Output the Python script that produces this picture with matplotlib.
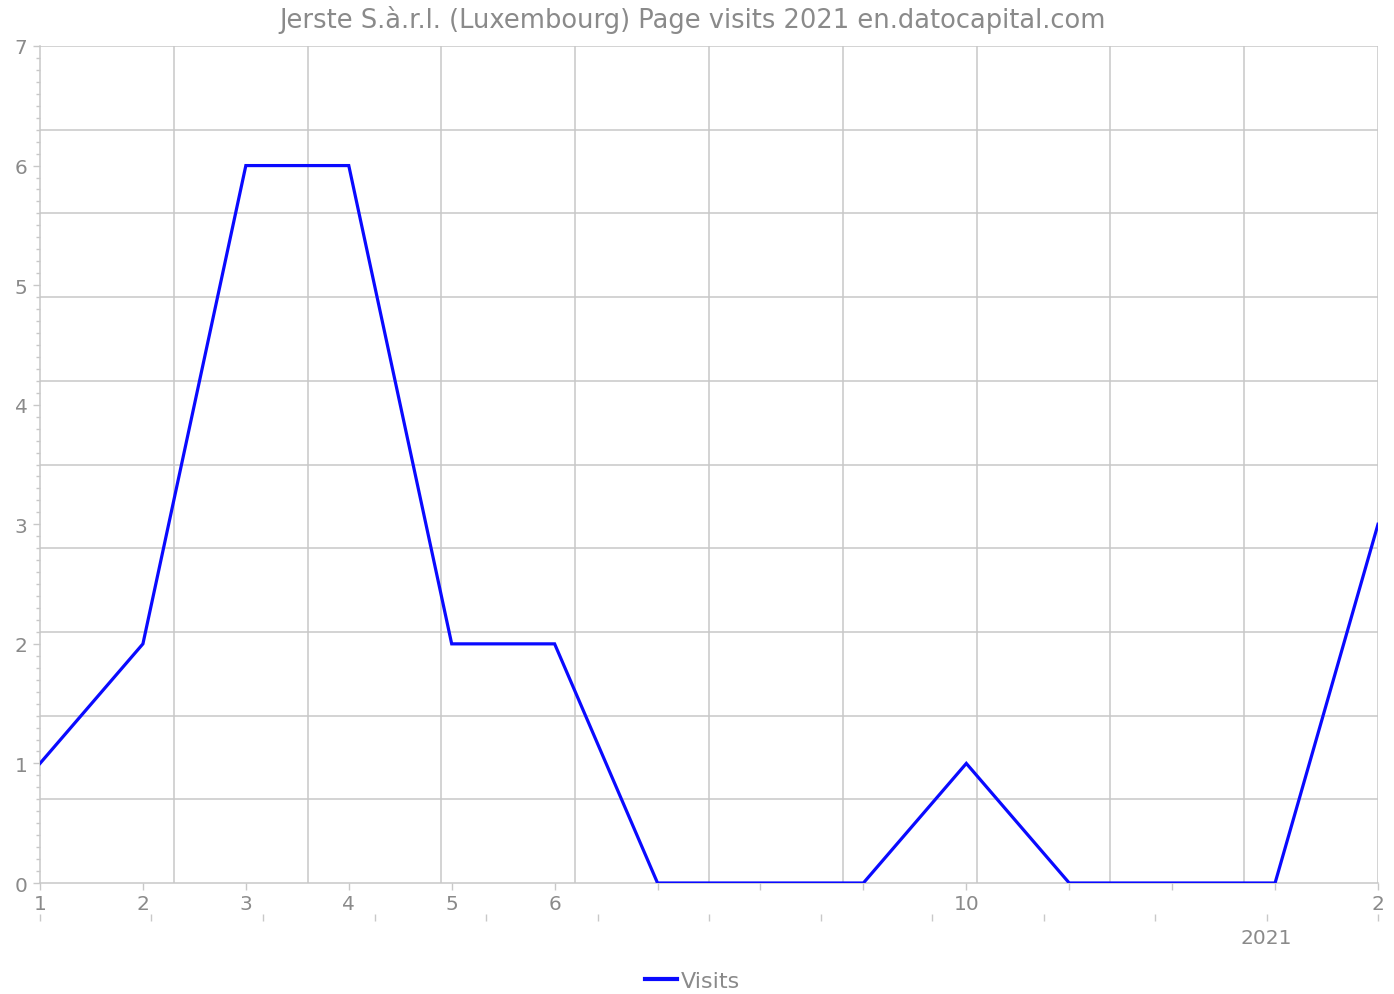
import matplotlib
matplotlib.use("Agg")
import matplotlib.pyplot as plt
import numpy as np

# data
months = list(range(1, 15))
visits = [1, 2, 6, 6, 2, 2, 0, 0, 0, 1, 0, 0, 0, 3]
month_labels = ['1', '2', '3', '4', '5', '6', '', '', '', '10', '', '', '', '2']
year_label = '2021'
title = 'Jerste S.à.r.l. (Luxembourg) Page visits 2021 en.datocapital.com'

GRAY = '#8a8a8a'
GRID = '#c8c8c8'

fig = plt.figure(figsize=(13.94, 9.95), dpi=100)
ax = fig.add_axes([40 / 1394, 1 - 884 / 995, (1378 - 40) / 1394, (884 - 47) / 995])

ax.plot(months, visits, color='#0a0aff', linewidth=2.3, label='Visits',
        solid_joinstyle='miter', clip_on=True, zorder=3)

ax.set_xlim(1, 14)
ax.set_ylim(0, 7)

# grid: 10 equal divisions each way
for gx in np.linspace(1, 14, 11)[1:]:
    ax.axvline(gx, color=GRID, linewidth=1.1, zorder=1)
for gy in np.linspace(0, 7, 11)[1:]:
    ax.axhline(gy, color=GRID, linewidth=1.1, zorder=1)

for side in ['top', 'right']:
    ax.spines[side].set_visible(False)
for side in ['left', 'bottom']:
    ax.spines[side].set_color(GRID)
    ax.spines[side].set_linewidth(1.1)

ax.set_xticks(months)
ax.set_xticklabels(month_labels)
ax.set_yticks(range(0, 8))
ax.set_yticks(np.arange(0, 7.01, 0.1), minor=True)
ax.tick_params(axis='both', which='major', colors=GRID, labelcolor=GRAY,
               labelsize=14.5, length=5, width=1)
ax.tick_params(axis='y', which='minor', colors=GRID, length=3, width=1)
ax.tick_params(axis='y', pad=4)
ax.tick_params(axis='x', pad=3)

# second row of ticks with the year label
sec = ax.secondary_xaxis(-0.037)
sec.spines['bottom'].set_visible(False)
year_ticks = np.linspace(1, 14, 13)
sec.set_xticks(year_ticks)
sec.set_xticklabels(['' if i != 11 else year_label for i in range(13)])
sec.tick_params(axis='x', colors=GRID, labelcolor=GRAY, labelsize=14.5,
                length=5, width=1, pad=5)

fig.text(0.497, 0.980, title, ha='center', va='center', fontsize=18.5, color=GRAY)

leg = fig.legend(loc='center', bbox_to_anchor=(0.497, 0.013), frameon=False,
                 fontsize=16, handlelength=1.4, handletextpad=0.2)
for t in leg.get_texts():
    t.set_color(GRAY)
for h in leg.get_lines():
    h.set_linewidth(3)

fig.savefig('out.png', dpi=100)
